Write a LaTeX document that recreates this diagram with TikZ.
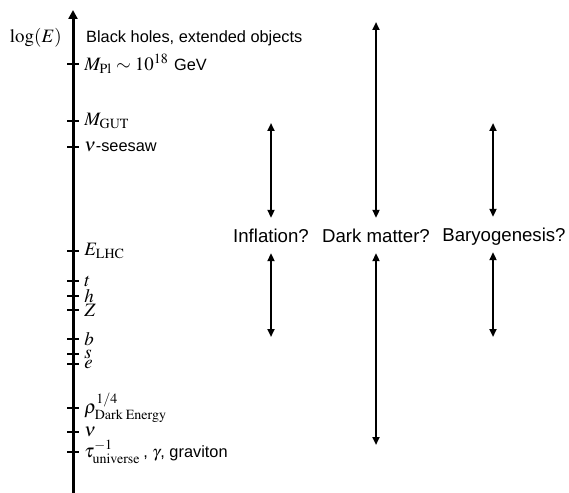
\documentclass[tikz,border=0pt]{standalone}
\usepackage{mathptmx}
\usepackage[no-math]{fontspec}
\setsansfont{Liberation Sans}
\usetikzlibrary{arrows.meta,positioning}

\newcommand{\sftext}[1]{{\sffamily\fontsize{16.4}{19}\selectfont #1}}

\begin{document}
\begin{tikzpicture}[
    x=1bp, y=-1bp,
    font=\fontsize{19}{22}\selectfont,
    tickmark/.style={
        fill=black,
        inner sep=0pt,
        minimum width=12bp,
        minimum height=2.2bp
    },
    lbl/.style={
        inner sep=0pt,
        right=5bp of #1
    },
    quest/.style={
        font=\sffamily\fontsize{18.7}{22}\selectfont,
        inner sep=0pt,
        anchor=base,
        text height=16bp,
        text depth=3bp
    },
    dbl/.style={
        {Triangle[length=8bp,width=7bp]}-{Triangle[length=8bp,width=7bp]},
        line width=2.3bp
    }
]
\useasboundingbox (0,0) rectangle (569,493);

% energy axis
\coordinate (axbot) at (73,493);
\coordinate (axtop) at (73,10);
\draw[-{Triangle[length=9bp,width=9bp]}, line width=3bp] (axbot) -- (axtop);
\node[anchor=east, inner sep=0pt] (logE) at (62,38) {$\log(E)$};
\node[anchor=west, inner sep=0pt] (bh) at (86,38)
{\sftext{Black holes, extended objects}};

% scales
\node[tickmark] (pl) at (73,64) {};
\node[lbl=pl] (plt) {$M_{\mathrm{Pl}}\sim10^{18}$ \sftext{GeV}};

\node[tickmark] (gut) at (73,121) {};
\node[lbl=gut] (gutt) {$M_{\mathrm{GUT}}$};

\node[tickmark] (see) at (73,147) {};
\node[lbl=see] (seet) {$\nu$\sftext{-seesaw}};

\node[tickmark] (lhc) at (73,251) {};
\node[lbl=lhc] (lhct) {$E_{\mathrm{LHC}}$};

\node[tickmark] (top) at (73,281) {};
\node[lbl=top] (topt) {$t$};

\node[tickmark] (higgs) at (73,296) {};
\node[lbl=higgs] (higgst) {$h$};

\node[tickmark] (zb) at (73,310) {};
\node[lbl=zb] (zbt) {$Z$};

\node[tickmark] (bot) at (73,339) {};
\node[lbl=bot] (bott) {$b$};

\node[tickmark] (str) at (73,354) {};
\node[lbl=str] (strt) {$s$};

\node[tickmark] (ele) at (73,364) {};
\node[lbl=ele] (elet) {$e$};

\node[tickmark] (de) at (73,408) {};
\node[lbl=de] (det) {$\rho^{1/4}_{\mathrm{Dark}\;\mathrm{Energy}}$};

\node[tickmark] (nu) at (73,432) {};
\node[lbl=nu] (nut) {$\nu$};

\node[tickmark] (uni) at (73,452) {};
\node[lbl=uni] (unit) {$\tau^{-1}_{\mathrm{universe}}$\,\sftext{, $\gamma$, graviton}};

% open questions
\node[quest] (infl) at (271,242) {Inflation?};
\node[quest] (dm) at (376,242) {Dark matter?};
\node[quest] (baryo) at (504,241) {Baryogenesis?};

\coordinate (infltop) at (271,123);
\coordinate (inflbot) at (271,337);
\coordinate (dmtop) at (376,22);
\coordinate (dmbot) at (376,445);
\coordinate (baryotop) at (493,123);
\coordinate (baryobot) at (493,337);

\draw[dbl, shorten >=8bp] (infltop) -- (infl.north);
\draw[dbl, shorten <=8bp] (infl.south) -- (inflbot);
\draw[dbl, shorten >=8bp] (dmtop) -- (dm.north);
\draw[dbl, shorten <=8bp] (dm.south) -- (dmbot);
\draw[dbl, shorten >=8bp] (baryotop) -- (baryo.north -| baryotop);
\draw[dbl, shorten <=8bp] (baryo.south -| baryobot) -- (baryobot);

\end{tikzpicture}
\end{document}
